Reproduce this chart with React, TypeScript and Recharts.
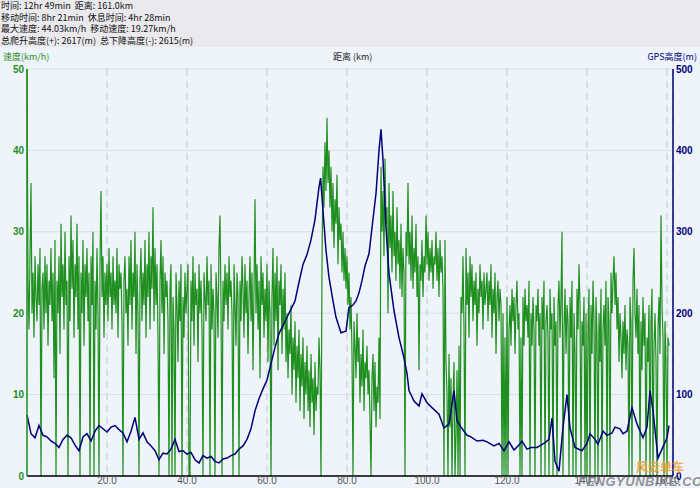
import React from "react";
import {
  LineChart, Line, XAxis, YAxis, CartesianGrid,
} from "recharts";

// header summary lines
const summaryLines = [
  "时间: 12hr 49min  距离: 161.0km",
  "移动时间: 8hr 21min  休息时间: 4hr 28min",
  "最大速度: 44.03km/h  移动速度: 19.27km/h",
  "总爬升高度(+): 2617(m)  总下降高度(-): 2615(m)",
];

const xTicks = [20, 40, 60, 80, 100, 120, 140, 160];
const speedTicks = [0, 10, 20, 30, 40, 50];
const altTicks = [0, 100, 200, 300, 400, 500];

// speed (km/h), one sample every 0.25 km starting at 0 km (20 per row = 5 km)
const SPEED_STEP_KM = 0.25;
const speedKmh = [
  50, 24, 18, 27, 36, 20, 25, 17, 27, 22, 19, 26, 21, 28, 0, 23, 25, 18, 27, 20,
  26, 16, 24, 21, 28, 19, 25, 12, 29, 0, 24, 20, 27, 15, 31, 22, 26, 18, 30, 21,
  24, 0, 27, 19, 32, 23, 29, 17, 26, 22, 31, 18, 27, 0, 25, 20, 29, 16, 26, 22,
  28, 19, 25, 0, 27, 21, 30, 0, 24, 18, 28, 20, 0, 26, 35, 22, 27, 17, 25, 21,
  26, 19, 28, 22, 25, 18, 27, 21, 24, 20, 28, 17, 26, 23, 25, 19, 0, 24, 27, 20,
  23, 16, 27, 21, 29, 18, 25, 22, 30, 15, 26, 20, 0, 24, 28, 19, 25, 21, 29, 17,
  26, 22, 30, 18, 27, 23, 33, 19, 28, 21, 26, 17, 0, 24, 29, 20, 27, 15, 25, 22,
  24, 19, 0, 23, 26, 0, 22, 18, 0, 25, 21, 14, 24, 19, 26, 0, 22, 17, 25, 20,
  23, 26, 0, 0, 24, 19, 27, 16, 25, 21, 23, 14, 26, 20, 24, 18, 0, 25, 22, 19,
  27, 21, 24, 0, 26, 18, 23, 20, 0, 25, 22, 17, 28, 32, 21, 0, 24, 19, 26, 21,
  25, 18, 27, 22, 24, 20, 0, 26, 21, 16, 25, 22, 0, 24, 19, 27, 23, 17, 26, 20,
  24, 15, 22, 27, 19, 25, 13, 23, 34, 20, 26, 18, 24, 12, 27, 21, 25, 17, 23, 19,
  26, 14, 24, 20, 0, 22, 28, 16, 25, 19, 27, 13, 24, 21, 26, 15, 23, 18, 25, 14,
  20, 12, 18, 15, 21, 10, 17, 13, 19, 9, 16, 12, 18, 8, 15, 11, 17, 7, 14, 10,
  16, 8, 13, 6, 15, 9, 12, 5, 14, 8, 11, 10, 17, 13, 0, 26, 38, 33, 41, 35,
  44, 36, 40, 33, 38, 30, 36, 28, 34, 31, 37, 26, 33, 29, 31, 25, 30, 24, 28, 23,
  27, 21, 25, 18, 22, 15, 0, 19, 16, 12, 20, 14, 17, 9, 15, 11, 18, 8, 14, 12,
  16, 10, 13, 7, 0, 12, 15, 8, 14, 6, 11, 9, 17, 7, 38, 30, 35, 27, 39, 31,
  33, 20, 36, 28, 32, 25, 35, 27, 30, 24, 33, 26, 29, 23, 31, 22, 28, 25, 0, 30,
  27, 36, 26, 30, 24, 32, 23, 28, 25, 31, 22, 27, 13, 26, 24, 29, 22, 27, 25, 32,
  26, 30, 24, 28, 25, 29, 23, 27, 26, 30, 24, 28, 22, 29, 25, 27, 23, 0, 29, 14,
  10, 0, 15, 6, 12, 0, 9, 14, 0, 5, 13, 0, 16, 0, 22, 20, 27, 18, 0, 28,
  21, 25, 17, 27, 22, 26, 19, 24, 21, 25, 16, 23, 20, 26, 22, 24, 18, 25, 21, 23,
  25, 19, 24, 21, 26, 17, 23, 20, 25, 15, 22, 24, 19, 23, 21, 0, 20, 0, 17, 0,
  22, 0, 18, 21, 16, 23, 19, 22, 15, 21, 24, 18, 20, 0, 17, 0, 22, 16, 23, 19,
  21, 17, 24, 0, 20, 16, 22, 18, 0, 21, 19, 23, 16, 20, 0, 22, 18, 24, 0, 19,
  21, 17, 0, 23, 18, 20, 0, 22, 16, 19, 0, 21, 24, 17, 22, 30, 0, 18, 23, 15,
  21, 19, 0, 22, 17, 24, 0, 20, 15, 0, 23, 18, 26, 21, 0, 19, 16, 22, 0, 20,
  0, 18, 23, 0, 21, 15, 24, 19, 0, 22, 17, 0, 20, 14, 23, 0, 18, 21, 16, 24,
  0, 22, 19, 0, 25, 20, 24, 27, 21, 25, 18, 22, 14, 20, 17, 12, 19, 15, 21, 13,
  18, 16, 0, 22, 19, 0, 24, 28, 20, 17, 23, 15, 21, 0, 19, 13, 22, 16, 20, 0,
  17, 14, 21, 0, 19, 23, 0, 16, 20, 14, 0, 18, 22, 15, 32, 21, 17, 0, 19, 14,
  0, 17, 16,
];

// GPS altitude (m) at distance (km)
const altKm = [
  0, 1, 2, 3, 4, 5, 6, 7, 8, 9,
  10, 11, 12, 13, 14, 15, 16, 17, 18, 19,
  20, 21, 22, 23, 24, 25, 26, 27, 28, 29,
  30, 31, 32, 33, 34, 35, 36, 37, 38, 39,
  40, 41, 42, 43, 44, 45, 46, 47, 48, 49,
  50, 51, 52, 53, 54, 55, 56, 57, 58, 59,
  60, 61, 62, 63, 64, 65, 66, 67, 68, 69,
  70, 71, 72, 73, 73.4, 74, 74.75, 75.5, 76.5, 77.25,
  78.5, 79.75, 80.5, 81.5, 82.25, 83, 83.75, 84.5, 85.5, 86.25,
  87.25, 88, 88.5, 89, 89.75, 90.5, 91.75, 93, 94.25, 95,
  95.5, 96.75, 98, 98.75, 100, 101.25, 103, 104.25, 105.5, 106.75,
  107.5, 108.5, 110, 111, 112.5, 114, 115, 116.75, 118, 119.25,
  120.5, 121.75, 123, 123.75, 125, 126, 127.5, 128.5, 129.5, 130.5,
  131.25, 132, 133, 134, 135, 135.75, 137, 138.75, 140, 140.75,
  142, 142.75, 144, 145, 146.25, 147, 148.25, 149, 150, 151.25,
  152.5, 154, 155, 155.75, 156.5, 157.75, 158.75, 160, 160.5,
];
const altM = [
  75, 52, 47, 62, 50, 48, 43, 40, 35, 45,
  50, 47, 38, 31, 48, 52, 43, 55, 62, 58,
  54, 60, 62, 57, 53, 42, 55, 72, 45, 53,
  42, 37, 31, 20, 28, 27, 33, 45, 30, 31,
  27, 29, 20, 16, 25, 22, 24, 18, 16, 21,
  22, 25, 27, 33, 37, 45, 58, 80, 95, 107,
  118, 138, 158, 175, 185, 195, 205, 215, 238, 260,
  272, 290, 315, 355, 366, 326, 277, 244, 215, 195,
  176, 178, 207, 210, 215, 225, 240, 258, 273, 305,
  347, 400, 426, 388, 305, 249, 203, 170, 145, 126,
  105, 92, 86, 101, 90, 84, 76, 59, 64, 105,
  68, 60, 50, 48, 43, 44, 42, 37, 40, 31,
  42, 32, 38, 43, 33, 35, 35, 38, 41, 45,
  71, 18, 6, 60, 100, 59, 35, 31, 40, 52,
  45, 39, 55, 50, 53, 60, 58, 52, 55, 84,
  64, 47, 60, 105, 80, 22, 33, 47, 62,
];

const speedData = speedKmh.map((v, i) => ({ km: i * SPEED_STEP_KM, speed: v }));
const altData = altKm.map((k, i) => ({ km: k, alt: altM[i] }));

const GREEN = "#1f8f1f";
const NAVY = "#00007a";
const FONT = "'Liberation Sans', 'Noto Sans CJK SC', sans-serif";
const CJK = "'Noto Sans CJK SC', 'Liberation Sans', sans-serif";

export default function App() {
  return (
    <div style={{ position: "absolute", left: 0, top: 0, width: 700, height: 488, background: "#eff4fb", overflow: "hidden", fontFamily: CJK }}>
      {/* summary header */}
      <div style={{ position: "absolute", left: 0, top: 0, width: 700, height: 47, background: "#e9e9ee" }}>
        {summaryLines.map((t, i) => (
          <div key={i} style={{ position: "absolute", left: 1, top: i * 11.7, fontSize: 9, lineHeight: "12px", color: "#111", whiteSpace: "pre" }}>
            {t}
          </div>
        ))}
      </div>

      <div style={{ position: "absolute", left: 3, top: 50, fontSize: 9, color: GREEN }}>速度(km/h)</div>
      <div style={{ position: "absolute", left: 333, top: 50, fontSize: 9, color: "#222" }}>距离 (km)</div>
      <div style={{ position: "absolute", right: 3, top: 50, fontSize: 9, color: NAVY }}>GPS高度(m)</div>

      <div style={{ position: "absolute", left: 0, top: 0 }}>
        <LineChart width={700} height={488} margin={{ top: 69, right: 0, bottom: 0, left: 0 }}>
          <CartesianGrid yAxisId="spd" vertical={false} stroke="#d9dee8" />
          <CartesianGrid yAxisId="spd" horizontal={false} stroke="#c4c8d0" strokeDasharray="7 5" />
          <XAxis
            type="number"
            dataKey="km"
            domain={[0, 161.5]}
            ticks={xTicks}
            allowDuplicatedCategory={false}
            tickFormatter={(v) => Number(v).toFixed(1)}
            height={12}
            tickLine={false}
            tickSize={0}
            tickMargin={1}
            axisLine={{ stroke: "#000", strokeWidth: 1.5 }}
            tick={{ fontSize: 10, fill: "#555", fontFamily: FONT }}
          />
          <YAxis
            yAxisId="spd"
            orientation="left"
            width={27}
            domain={[0, 50]}
            ticks={speedTicks}
            tickLine={false}
            tickSize={2}
            tickMargin={1}
            axisLine={{ stroke: GREEN, strokeWidth: 1.5 }}
            tick={{ fontSize: 10, fill: GREEN, fontFamily: FONT, fontWeight: 700 }}
          />
          <YAxis
            yAxisId="alt"
            orientation="right"
            width={27}
            domain={[0, 500]}
            ticks={altTicks}
            tickLine={false}
            tickSize={2}
            tickMargin={1}
            axisLine={{ stroke: NAVY, strokeWidth: 1.5 }}
            tick={{ fontSize: 10, fill: NAVY, fontFamily: FONT, fontWeight: 700 }}
          />
          <Line
            yAxisId="spd"
            data={speedData}
            dataKey="speed"
            type="linear"
            stroke={GREEN}
            strokeWidth={1.2}
            dot={false}
            isAnimationActive={false}
          />
          <Line
            yAxisId="alt"
            data={altData}
            dataKey="alt"
            type="linear"
            stroke={NAVY}
            strokeWidth={1.5}
            dot={false}
            isAnimationActive={false}
          />
        </LineChart>
      </div>

      {/* site watermark */}
      <div style={{ position: "absolute", left: 636, top: 458, fontSize: 12, fontWeight: 700, color: "#f5a030", opacity: 0.85 }}>风云单车</div>
      <div style={{ position: "absolute", left: 578, top: 474, fontSize: 13, fontStyle: "italic", fontWeight: 700, color: "#6a6a70", opacity: 0.7, fontFamily: FONT, letterSpacing: 0.5 }}>FENGYUNBIKE.COM</div>
    </div>
  );
}
